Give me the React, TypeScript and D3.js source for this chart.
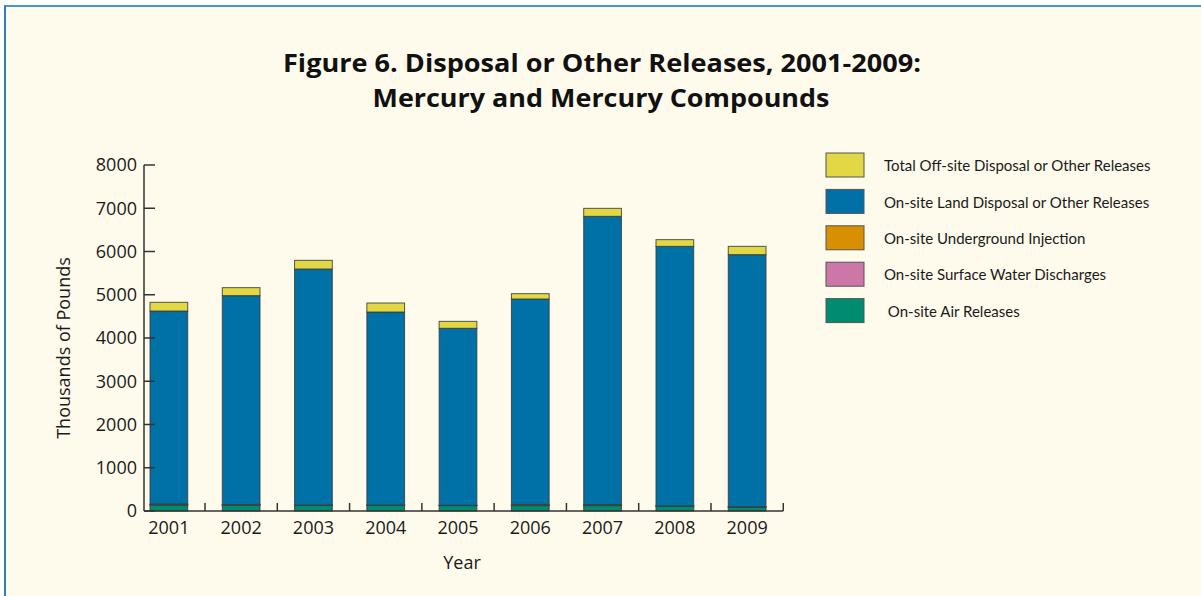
import React from "react";
import * as d3 from "d3";

const years = ["2001", "2002", "2003", "2004", "2005", "2006", "2007", "2008", "2009"];
const airReleases = [140, 135, 130, 130, 125, 125, 125, 110, 90];
const surfaceWater = [3, 3, 3, 3, 3, 3, 3, 3, 3];
const undergroundInjection = [20, 10, 5, 5, 5, 25, 20, 5, 5];
const landDisposal = [4461, 4831, 5457, 4463, 4091, 4749, 6665, 6001, 5829];
const offsiteDisposal = [201, 185, 201, 208, 161, 123, 185, 155, 192];
const yTicks = [0, 1000, 2000, 3000, 4000, 5000, 6000, 7000, 8000];

const seriesKeys = ["air", "water", "injection", "land", "offsite"];
const seriesLabels: Record<string, string> = {
  offsite: "Total Off-site Disposal or Other Releases",
  land: "On-site Land Disposal or Other Releases",
  injection: "On-site Underground Injection",
  water: "On-site Surface Water Discharges",
  air: " On-site Air Releases",
};
const seriesColors: Record<string, string> = {
  offsite: "#e2d845",
  land: "#0071a6",
  injection: "#d88f00",
  water: "#cc77a7",
  air: "#008c70",
};
const legendOrder = ["offsite", "land", "injection", "water", "air"];

const W = 1201;
const H = 596;
const FONT = "'Open Sans', 'Noto Sans', sans-serif";
const LEGEND_FONT = "Lato, 'Open Sans', sans-serif";

export default function App() {
  const rows = years.map((y, i) => ({
    year: y,
    air: airReleases[i],
    water: surfaceWater[i],
    injection: undergroundInjection[i],
    land: landDisposal[i],
    offsite: offsiteDisposal[i],
  }));
  const stacked = d3.stack<any>().keys(seriesKeys)(rows);

  const x = d3.scaleBand<string>().domain(years).range([150, 766]).paddingInner(0.478).paddingOuter(0);
  const y = d3.scaleLinear().domain([0, 8000]).range([511, 165]);
  const bw = x.bandwidth();
  const gap = x.step() - bw;
  const axisLeft = 144;
  const axisRight = (x(years[years.length - 1]) as number) + bw + gap / 2;

  return (
    <svg width={W} height={H} style={{ position: "absolute", left: 0, top: 0 }} fontFamily={FONT}>
      <rect x={0} y={0} width={W} height={H} fill="#ffffff" />
      <rect x={5} y={6} width={W - 5} height={H - 6} fill="#fffbec" />
      <line x1={4} y1={6} x2={W} y2={6} stroke="#4b96cb" strokeWidth={2} />
      <line x1={5} y1={6} x2={5} y2={H} stroke="#2f7fc0" strokeWidth={2} />

      <text x={602} y={72} textAnchor="middle" fontSize={25} fontWeight={700} fill="#111"
        textLength={638} lengthAdjust="spacingAndGlyphs">
        Figure 6. Disposal or Other Releases, 2001-2009:
      </text>
      <text x={601} y={107} textAnchor="middle" fontSize={25} fontWeight={700} fill="#111"
        textLength={457} lengthAdjust="spacingAndGlyphs">
        Mercury and Mercury Compounds
      </text>

      {/* bars */}
      {stacked.map((s) => (
        <g key={s.key}>
          {s.map((d, i) => (
            <rect
              key={i}
              x={x(years[i]) as number}
              y={y(d[1])}
              width={bw}
              height={Math.max(0, y(d[0]) - y(d[1]))}
              fill={seriesColors[s.key]}
              stroke="#3a3a3a"
              strokeWidth={1}
              strokeOpacity={0.85}
            />
          ))}
        </g>
      ))}

      {/* y axis */}
      <line x1={axisLeft} y1={y(8000)} x2={axisLeft} y2={y(0)} stroke="#333" strokeWidth={1.5} />
      {yTicks.map((t) => (
        <g key={t}>
          <line x1={axisLeft} x2={axisLeft + 11} y1={y(t)} y2={y(t)} stroke="#333" strokeWidth={1.5} />
          <text x={137} y={y(t)} dy="0.35em" textAnchor="end" fontSize={18} fill="#1a1a1a">{t}</text>
        </g>
      ))}

      {/* x axis */}
      <line x1={axisLeft} y1={y(0)} x2={axisRight} y2={y(0)} stroke="#333" strokeWidth={1.5} />
      {years.map((yr) => {
        const tx = (x(yr) as number) + bw + gap / 2;
        return (
          <g key={yr}>
            <line x1={tx} x2={tx} y1={y(0)} y2={y(0) - 8} stroke="#333" strokeWidth={1.5} />
            <text x={(x(yr) as number) + bw / 2} y={534} textAnchor="middle" fontSize={18} fill="#1a1a1a">{yr}</text>
          </g>
        );
      })}

      <text transform={`translate(70,348) rotate(-90)`} textAnchor="middle" fontSize={18} fill="#1a1a1a">
        Thousands of Pounds
      </text>
      <text x={462} y={569} textAnchor="middle" fontSize={18} fill="#1a1a1a">Year</text>

      {/* legend */}
      {legendOrder.map((k, i) => {
        const ly = 153 + i * 36.4;
        return (
          <g key={k}>
            <rect x={826} y={ly} width={38} height={24} fill={seriesColors[k]} stroke="#555" strokeWidth={1} />
            <text x={884} y={ly + 13} dy="0.35em" fontSize={15} fill="#1a1a1a" fontFamily={LEGEND_FONT}
              style={{ whiteSpace: "pre" }}>{seriesLabels[k]}</text>
          </g>
        );
      })}
    </svg>
  );
}
